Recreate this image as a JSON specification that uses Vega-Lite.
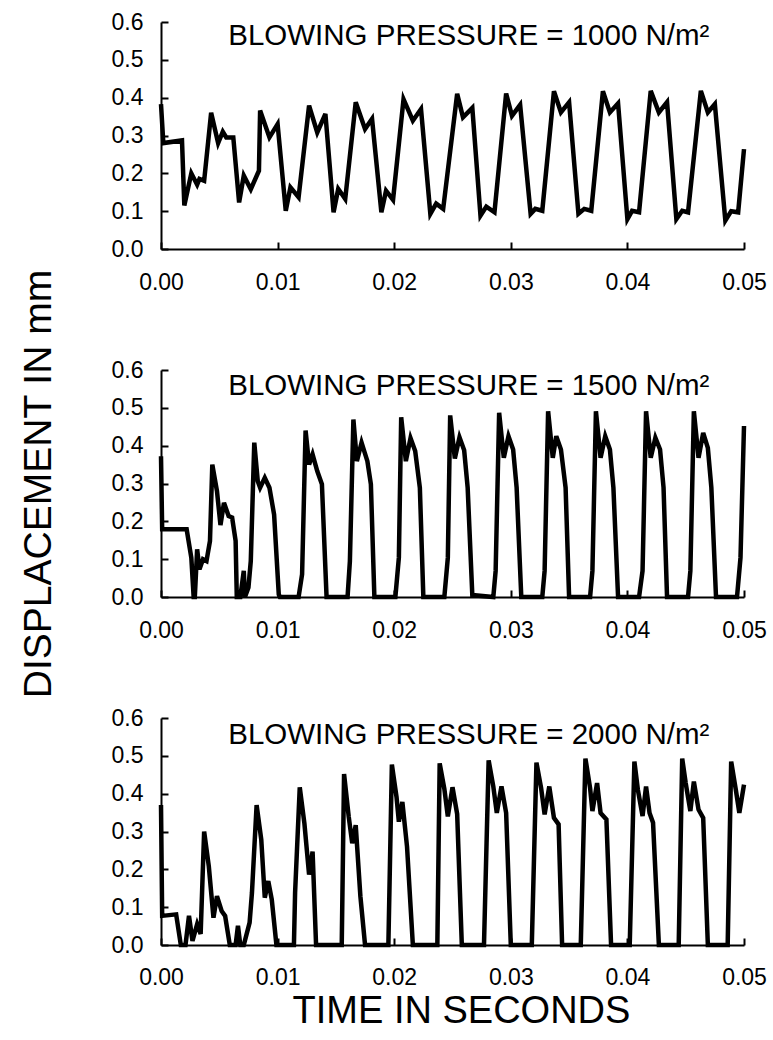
{
  "$schema": "https://vega.github.io/schema/vega-lite/v6.json",
  "padding": {"left": 19, "top": 11, "right": 4, "bottom": 5},
  "bounds": "flush",
  "spacing": 121,
  "config": {
    "font": "Liberation Sans",
    "view": {"stroke": null}
  },
  "datasets": {
    "p1": [
      {"t":0,"d":0.383},{"t":0.0002,"d":0.28},{"t":0.0018,"d":0.287},{"t":0.002,"d":0.115},{"t":0.0026,"d":0.2},{"t":0.0031,"d":0.17},{"t":0.0033,"d":0.185},{"t":0.0037,"d":0.18},{"t":0.0043,"d":0.36},{"t":0.0049,"d":0.28},{"t":0.0053,"d":0.31},{"t":0.0056,"d":0.295},{"t":0.0062,"d":0.295},{"t":0.0067,"d":0.123},{"t":0.0071,"d":0.194},{"t":0.0077,"d":0.158},{"t":0.0084,"d":0.207},{"t":0.0085,"d":0.366},{"t":0.0093,"d":0.295},{"t":0.01,"d":0.33},{"t":0.0107,"d":0.101},{"t":0.0111,"d":0.163},{"t":0.0118,"d":0.137},{"t":0.0127,"d":0.379},{"t":0.0134,"d":0.308},{"t":0.0141,"d":0.357},{"t":0.0148,"d":0.097},{"t":0.0152,"d":0.159},{"t":0.0158,"d":0.132},{"t":0.0167,"d":0.388},{"t":0.0175,"d":0.317},{"t":0.0181,"d":0.344},{"t":0.0189,"d":0.097},{"t":0.0193,"d":0.154},{"t":0.0199,"d":0.13},{"t":0.0208,"d":0.396},{"t":0.0216,"d":0.339},{"t":0.0223,"d":0.37},{"t":0.0231,"d":0.093},{"t":0.0236,"d":0.12},{"t":0.0242,"d":0.106},{"t":0.0254,"d":0.41},{"t":0.0259,"d":0.348},{"t":0.0267,"d":0.373},{"t":0.0274,"d":0.088},{"t":0.0279,"d":0.112},{"t":0.0286,"d":0.097},{"t":0.0296,"d":0.411},{"t":0.0301,"d":0.352},{"t":0.0308,"d":0.381},{"t":0.0317,"d":0.093},{"t":0.0321,"d":0.106},{"t":0.0327,"d":0.101},{"t":0.0337,"d":0.417},{"t":0.0343,"d":0.361},{"t":0.035,"d":0.388},{"t":0.0358,"d":0.093},{"t":0.0363,"d":0.106},{"t":0.0369,"d":0.101},{"t":0.0379,"d":0.417},{"t":0.0385,"d":0.361},{"t":0.0392,"d":0.385},{"t":0.04,"d":0.079},{"t":0.0404,"d":0.101},{"t":0.041,"d":0.097},{"t":0.042,"d":0.418},{"t":0.0427,"d":0.361},{"t":0.0434,"d":0.388},{"t":0.0442,"d":0.079},{"t":0.0447,"d":0.101},{"t":0.0452,"d":0.097},{"t":0.0463,"d":0.418},{"t":0.0469,"d":0.361},{"t":0.0475,"d":0.383},{"t":0.0484,"d":0.075},{"t":0.0489,"d":0.1},{"t":0.0495,"d":0.097},{"t":0.05,"d":0.264}
    ],
    "p2": [
      {"t":0,"d":0.372},{"t":0.0001,"d":0.179},{"t":0.0022,"d":0.179},{"t":0.0026,"d":0.104},{"t":0.0028,"d":0},{"t":0.0029,"d":0},{"t":0.0031,"d":0.126},{"t":0.0033,"d":0.073},{"t":0.0036,"d":0.1},{"t":0.0039,"d":0.095},{"t":0.0042,"d":0.148},{"t":0.0044,"d":0.35},{"t":0.0048,"d":0.28},{"t":0.0051,"d":0.19},{"t":0.0054,"d":0.249},{"t":0.0058,"d":0.214},{"t":0.0061,"d":0.21},{"t":0.0064,"d":0.148},{"t":0.0065,"d":0},{"t":0.0068,"d":0},{"t":0.0071,"d":0.069},{"t":0.0072,"d":0},{"t":0.0075,"d":0.025},{"t":0.0077,"d":0.095},{"t":0.008,"d":0.408},{"t":0.0083,"d":0.306},{"t":0.0085,"d":0.289},{"t":0.0089,"d":0.315},{"t":0.0093,"d":0.289},{"t":0.0097,"d":0.218},{"t":0.0101,"d":0.007},{"t":0.0102,"d":0},{"t":0.0118,"d":0},{"t":0.0121,"d":0.06},{"t":0.0124,"d":0.44},{"t":0.0127,"d":0.35},{"t":0.013,"d":0.377},{"t":0.0134,"d":0.333},{"t":0.0138,"d":0.298},{"t":0.0142,"d":0},{"t":0.016,"d":0},{"t":0.0162,"d":0.095},{"t":0.0165,"d":0.469},{"t":0.0168,"d":0.359},{"t":0.0172,"d":0.408},{"t":0.0177,"d":0.359},{"t":0.018,"d":0.298},{"t":0.0183,"d":0},{"t":0.0201,"d":0},{"t":0.0204,"d":0.104},{"t":0.0206,"d":0.475},{"t":0.021,"d":0.359},{"t":0.0214,"d":0.42},{"t":0.0218,"d":0.386},{"t":0.0222,"d":0.289},{"t":0.0225,"d":0},{"t":0.0243,"d":0},{"t":0.0246,"d":0.104},{"t":0.0248,"d":0.48},{"t":0.0252,"d":0.366},{"t":0.0256,"d":0.422},{"t":0.026,"d":0.388},{"t":0.0263,"d":0.289},{"t":0.0267,"d":0.005},{"t":0.0285,"d":0},{"t":0.0287,"d":0.069},{"t":0.029,"d":0.487},{"t":0.0294,"d":0.368},{"t":0.0298,"d":0.425},{"t":0.0302,"d":0.39},{"t":0.0305,"d":0.289},{"t":0.0309,"d":0},{"t":0.0327,"d":0},{"t":0.0329,"d":0.069},{"t":0.0332,"d":0.491},{"t":0.0336,"d":0.368},{"t":0.0339,"d":0.425},{"t":0.0343,"d":0.39},{"t":0.0347,"d":0.289},{"t":0.035,"d":0},{"t":0.0368,"d":0},{"t":0.037,"d":0.069},{"t":0.0373,"d":0.491},{"t":0.0377,"d":0.368},{"t":0.0381,"d":0.425},{"t":0.0385,"d":0.39},{"t":0.0388,"d":0.289},{"t":0.0392,"d":0},{"t":0.041,"d":0},{"t":0.0413,"d":0.069},{"t":0.0416,"d":0.491},{"t":0.042,"d":0.368},{"t":0.0424,"d":0.421},{"t":0.0428,"d":0.39},{"t":0.0431,"d":0.289},{"t":0.0434,"d":0},{"t":0.0452,"d":0},{"t":0.0454,"d":0.069},{"t":0.0457,"d":0.491},{"t":0.0461,"d":0.368},{"t":0.0465,"d":0.434},{"t":0.0469,"d":0.394},{"t":0.0472,"d":0.289},{"t":0.0476,"d":0},{"t":0.0494,"d":0},{"t":0.0497,"d":0.104},{"t":0.05,"d":0.452}
    ],
    "p3": [
      {"t":0,"d":0.37},{"t":0.0001,"d":0.077},{"t":0.0013,"d":0.081},{"t":0.0017,"d":0},{"t":0.0021,"d":0},{"t":0.0024,"d":0.077},{"t":0.0027,"d":0.011},{"t":0.0031,"d":0.055},{"t":0.0034,"d":0.029},{"t":0.0037,"d":0.3},{"t":0.0041,"d":0.208},{"t":0.0045,"d":0.072},{"t":0.0048,"d":0.129},{"t":0.0052,"d":0.09},{"t":0.0055,"d":0.077},{"t":0.0059,"d":0},{"t":0.0064,"d":0},{"t":0.0066,"d":0.051},{"t":0.0068,"d":0},{"t":0.0071,"d":0},{"t":0.0076,"d":0.059},{"t":0.0078,"d":0.138},{"t":0.0082,"d":0.37},{"t":0.0086,"d":0.278},{"t":0.0089,"d":0.125},{"t":0.0092,"d":0.169},{"t":0.0095,"d":0.12},{"t":0.0099,"d":0},{"t":0.0114,"d":0},{"t":0.0115,"d":0.138},{"t":0.0119,"d":0.417},{"t":0.0123,"d":0.321},{"t":0.0127,"d":0.186},{"t":0.013,"d":0.247},{"t":0.0133,"d":0},{"t":0.0155,"d":0},{"t":0.0157,"d":0.452},{"t":0.0161,"d":0.339},{"t":0.0164,"d":0.269},{"t":0.0167,"d":0.317},{"t":0.0171,"d":0.129},{"t":0.0175,"d":0},{"t":0.0195,"d":0},{"t":0.0198,"d":0.477},{"t":0.0202,"d":0.391},{"t":0.0204,"d":0.326},{"t":0.0207,"d":0.378},{"t":0.0211,"d":0.26},{"t":0.0216,"d":0},{"t":0.0237,"d":0},{"t":0.0239,"d":0.48},{"t":0.0243,"d":0.413},{"t":0.0246,"d":0.34},{"t":0.025,"d":0.417},{"t":0.0254,"d":0.346},{"t":0.0258,"d":0},{"t":0.0277,"d":0},{"t":0.0281,"d":0.488},{"t":0.0285,"d":0.419},{"t":0.0288,"d":0.349},{"t":0.0292,"d":0.419},{"t":0.0296,"d":0.349},{"t":0.03,"d":0},{"t":0.0318,"d":0},{"t":0.0322,"d":0.482},{"t":0.0326,"d":0.415},{"t":0.0329,"d":0.345},{"t":0.0333,"d":0.419},{"t":0.0337,"d":0.336},{"t":0.0341,"d":0.319},{"t":0.0344,"d":0},{"t":0.036,"d":0},{"t":0.0364,"d":0.493},{"t":0.0368,"d":0.415},{"t":0.037,"d":0.354},{"t":0.0374,"d":0.428},{"t":0.0377,"d":0.349},{"t":0.0382,"d":0.332},{"t":0.0386,"d":0},{"t":0.0402,"d":0},{"t":0.0406,"d":0.485},{"t":0.0409,"d":0.41},{"t":0.0413,"d":0.341},{"t":0.0416,"d":0.419},{"t":0.0419,"d":0.349},{"t":0.0422,"d":0.323},{"t":0.0427,"d":0},{"t":0.0444,"d":0},{"t":0.0447,"d":0.493},{"t":0.045,"d":0.428},{"t":0.0454,"d":0.354},{"t":0.0457,"d":0.432},{"t":0.0461,"d":0.358},{"t":0.0465,"d":0.336},{"t":0.0469,"d":0},{"t":0.0486,"d":0},{"t":0.0489,"d":0.485},{"t":0.0493,"d":0.41},{"t":0.0496,"d":0.349},{"t":0.05,"d":0.424}
    ]
  },
  "vconcat": [
    {
      "width": 583, "height": 227,
      "encoding": {
        "x": {"field": "t", "type": "quantitative", "scale": {"domain": [0, 0.05], "nice": false}, "axis": {"values": [0, 0.01, 0.02, 0.03, 0.04, 0.05], "format": ".2f", "title": null, "grid": false, "domainColor": "black", "domainWidth": 2, "tickColor": "black", "tickWidth": 2, "tickSize": -7, "labelFontSize": 23, "labelColor": "black", "labelFont": "Liberation Sans", "labelPadding": 29, "labelFlush": false, "labelOverlap": false}},
        "y": {"field": "d", "type": "quantitative", "scale": {"domain": [0, 0.6], "nice": false}, "axis": {"values": [0, 0.1, 0.2, 0.3, 0.4, 0.5, 0.6], "format": ".1f", "title": null, "grid": false, "domainColor": "black", "domainWidth": 2, "tickColor": "black", "tickWidth": 2, "tickSize": -7, "labelFontSize": 23, "labelColor": "black", "labelFont": "Liberation Sans", "labelPadding": 25, "labelFlush": false, "labelOverlap": false}}
      },
      "layer": [
        {"data": {"name": "p1"}, "mark": {"type": "line", "color": "black", "strokeWidth": 4.5}},
        {
          "data": {"values": [{"t": 0.0264, "d": 0.563, "label": "BLOWING PRESSURE = 1000 N/m²"}]},
          "mark": {"type": "text", "fontSize": 29.5, "font": "Liberation Sans", "color": "black", "baseline": "middle", "align": "center"},
          "encoding": {"text": {"field": "label"}}
        }
      ]
    },
    {
      "width": 583, "height": 227,
      "encoding": {
        "x": {"field": "t", "type": "quantitative", "scale": {"domain": [0, 0.05], "nice": false}, "axis": {"values": [0, 0.01, 0.02, 0.03, 0.04, 0.05], "format": ".2f", "title": null, "grid": false, "domainColor": "black", "domainWidth": 2, "tickColor": "black", "tickWidth": 2, "tickSize": -7, "labelFontSize": 23, "labelColor": "black", "labelFont": "Liberation Sans", "labelPadding": 29, "labelFlush": false, "labelOverlap": false}},
        "y": {"field": "d", "type": "quantitative", "scale": {"domain": [0, 0.6], "nice": false}, "axis": {"values": [0, 0.1, 0.2, 0.3, 0.4, 0.5, 0.6], "format": ".1f", "title": "DISPLACEMENT IN mm", "titleFontSize": 39, "titleFontWeight": "normal", "titleColor": "black", "titleFont": "Liberation Sans", "titlePadding": 53, "grid": false, "domainColor": "black", "domainWidth": 2, "tickColor": "black", "tickWidth": 2, "tickSize": -7, "labelFontSize": 23, "labelColor": "black", "labelFont": "Liberation Sans", "labelPadding": 25, "labelFlush": false, "labelOverlap": false}}
      },
      "layer": [
        {"data": {"name": "p2"}, "mark": {"type": "line", "color": "black", "strokeWidth": 4.5}},
        {
          "data": {"values": [{"t": 0.0264, "d": 0.557, "label": "BLOWING PRESSURE = 1500 N/m²"}]},
          "mark": {"type": "text", "fontSize": 29.5, "font": "Liberation Sans", "color": "black", "baseline": "middle", "align": "center"},
          "encoding": {"text": {"field": "label"}}
        }
      ]
    },
    {
      "width": 583, "height": 227,
      "encoding": {
        "x": {"field": "t", "type": "quantitative", "scale": {"domain": [0, 0.05], "nice": false}, "axis": {"values": [0, 0.01, 0.02, 0.03, 0.04, 0.05], "format": ".2f", "title": "TIME IN SECONDS", "titleFontSize": 38, "titleFontWeight": "normal", "titleColor": "black", "titleFont": "Liberation Sans", "titlePadding": 3, "titleX": 300, "titleAnchor": "middle", "titleAlign": "center", "grid": false, "domainColor": "black", "domainWidth": 2, "tickColor": "black", "tickWidth": 2, "tickSize": -7, "labelFontSize": 23, "labelColor": "black", "labelFont": "Liberation Sans", "labelPadding": 28, "labelFlush": false, "labelOverlap": false}},
        "y": {"field": "d", "type": "quantitative", "scale": {"domain": [0, 0.6], "nice": false}, "axis": {"values": [0, 0.1, 0.2, 0.3, 0.4, 0.5, 0.6], "format": ".1f", "title": null, "grid": false, "domainColor": "black", "domainWidth": 2, "tickColor": "black", "tickWidth": 2, "tickSize": -7, "labelFontSize": 23, "labelColor": "black", "labelFont": "Liberation Sans", "labelPadding": 25, "labelFlush": false, "labelOverlap": false}}
      },
      "layer": [
        {"data": {"name": "p3"}, "mark": {"type": "line", "color": "black", "strokeWidth": 4.5}},
        {
          "data": {"values": [{"t": 0.0264, "d": 0.556, "label": "BLOWING PRESSURE = 2000 N/m²"}]},
          "mark": {"type": "text", "fontSize": 29.5, "font": "Liberation Sans", "color": "black", "baseline": "middle", "align": "center"},
          "encoding": {"text": {"field": "label"}}
        }
      ]
    }
  ]
}
